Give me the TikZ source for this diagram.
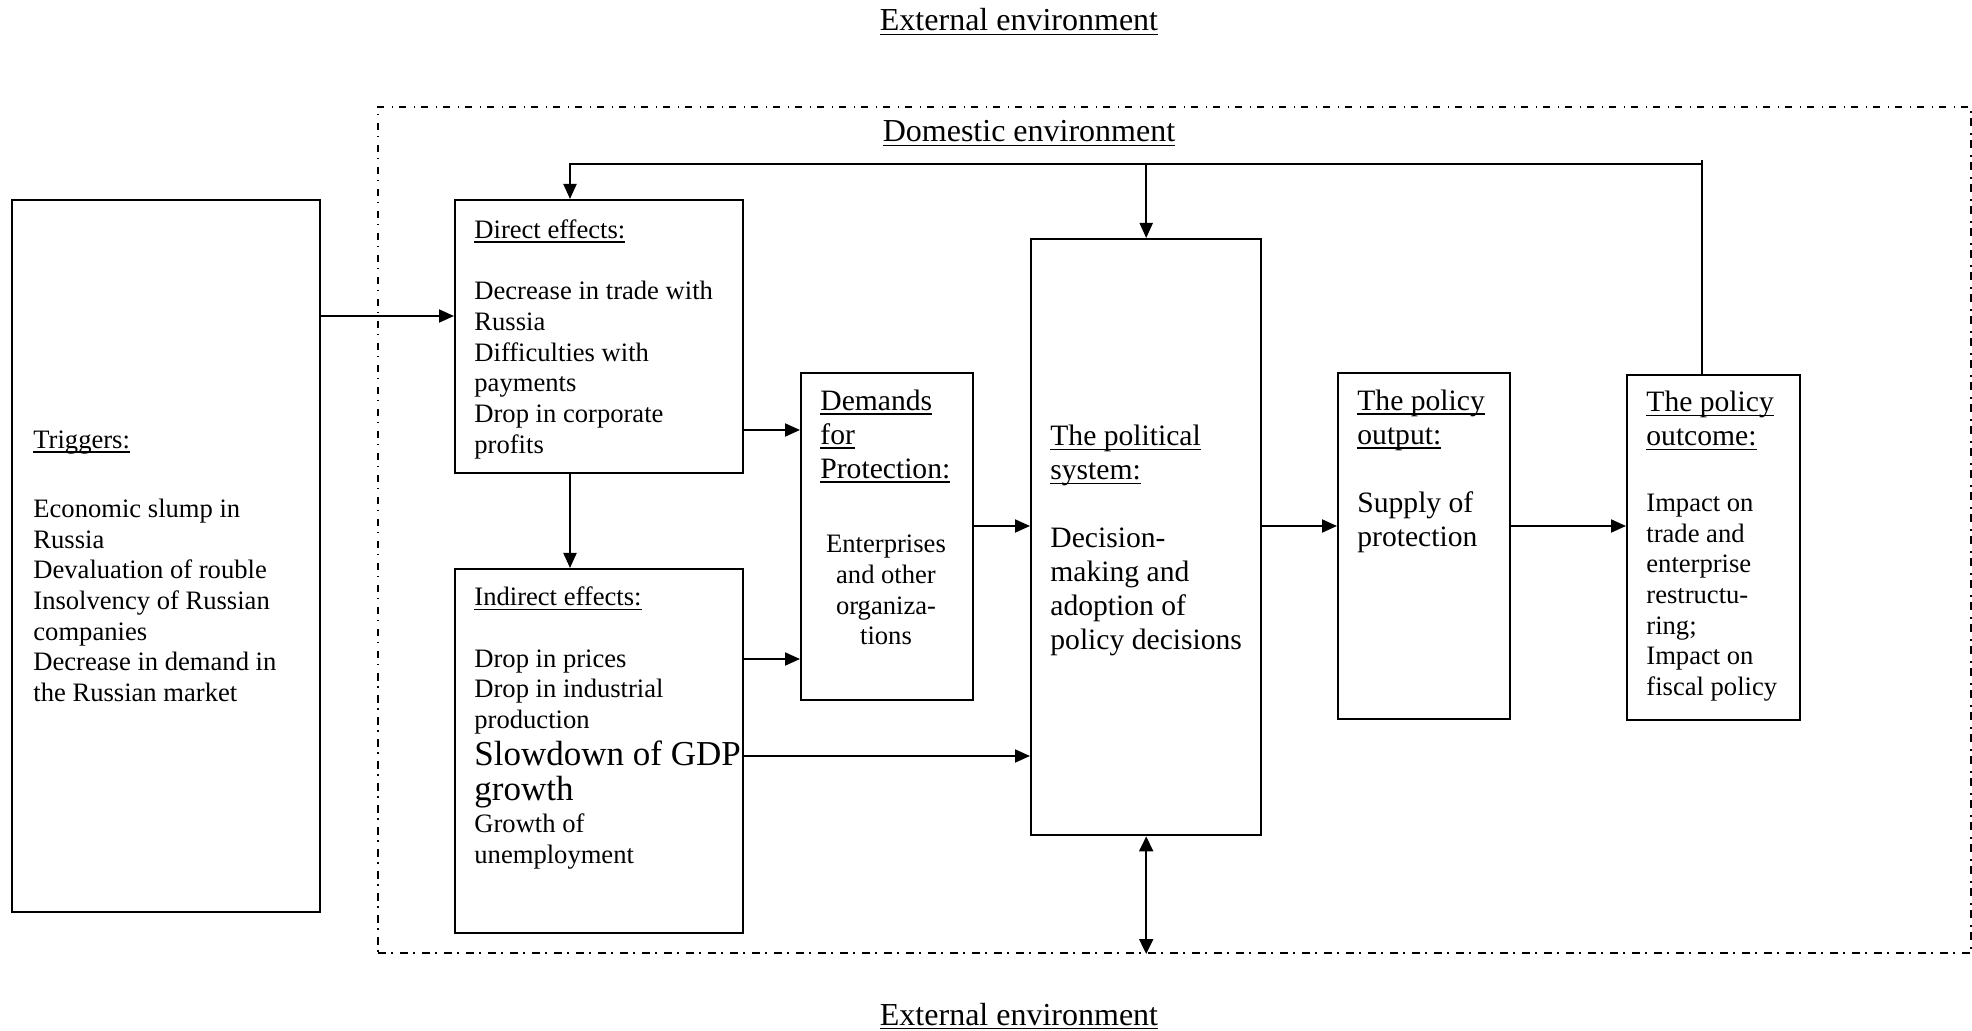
\documentclass[tikz,border=0pt]{standalone}
\usepackage{fontspec}
\setmainfont{Liberation Serif}
\usetikzlibrary{arrows.meta}
\newcommand\fnorm{\fontsize{13.3}{15.35}\selectfont}
\newcommand\fbig{\fontsize{14.8}{17}\selectfont}
\newcommand\fenv{\fontsize{16}{19}\selectfont}
\newcommand\fgdp{\fontsize{17.5}{17.6}\selectfont}
\newcommand\ulbox[1]{\leavevmode\setbox0=\hbox{#1}\rlap{\rule[-2.2pt]{\wd0}{0.7pt}}\box0}
\begin{document}
\begin{tikzpicture}[x=0.5pt, y=-0.5pt,
  box/.style={draw, line width=1.2pt, inner sep=0pt, anchor=north west},
  txt/.style={inner sep=0pt, anchor=north west, align=left, font=\fnorm},
  envlbl/.style={inner sep=0pt, anchor=base, font=\fenv},
  conn/.style={line width=1pt},
  arr/.style={line width=1pt, -{Triangle[length=7.5pt,width=6.5pt]}},
  dbl/.style={line width=1pt, {Triangle[length=7.5pt,width=7pt]}-{Triangle[length=7.5pt,width=7pt]}}]
\useasboundingbox (0,0) rectangle (1972,1031);

% domestic environment frame
\node[draw, dash pattern=on 3.75pt off 2.75pt on 0.75pt off 3.75pt, line width=1pt,
      minimum width=796.5pt, minimum height=423pt, inner sep=0pt, anchor=north west] (dom) at (377,106) {};

\node[envlbl] (ext1) at (1019,31) {\ulbox{External environment}};
\node[envlbl] (domlbl) at (1029,141.6) {\ulbox{Domestic environment}};
\node[envlbl] (ext2) at (1019,1025) {\ulbox{External environment}};

% boxes
\node[box, minimum width=154pt, minimum height=356pt] (trig) at (11,199) {};
\node[box, minimum width=144pt, minimum height=136.5pt] (direct) at (454,199) {};
\node[box, minimum width=144pt, minimum height=182pt] (indirect) at (454,568) {};
\node[box, minimum width=86pt, minimum height=163.5pt] (dem) at (800,372) {};
\node[box, minimum width=115pt, minimum height=298pt] (pol) at (1030,238) {};
\node[box, minimum width=86pt, minimum height=173pt] (out) at (1337,372) {};
\node[box, minimum width=86.5pt, minimum height=172.5pt] (ocm) at (1626,374) {};

% texts
\node[txt] (trigt) at (33,426.5) {\strut\ulbox{Triggers:}\\[3.8pt] \\ Economic slump in\\ Russia\\ Devaluation of rouble\\ Insolvency of Russian\\ companies\\ Decrease in demand in\\ the Russian market};
\node[txt] (dirt) at (474,216.5) {\strut\ulbox{Direct effects:}\\ \\ Decrease in trade with\\ Russia\\ Difficulties with\\ payments\\ Drop in corporate\\ profits};
\node[txt] (indt) at (474,584) {\strut\ulbox{Indirect effects:}\\ \\ Drop in prices\\ Drop in industrial\\ production\\[3pt] {\fgdp Slowdown of GDP}\\[2.2pt] {\fgdp growth}\\[0.6pt] Growth of\\ unemployment};
\node[txt, font=\fbig] (demt) at (820,386) {\strut\ulbox{Demands}\\ \ulbox{for}\\ \ulbox{Protection:}};
\node[txt, align=center, anchor=north] (demb) at (886,531) {\strut Enterprises\\ and other\\ organiza-\\ tions};
\node[txt, font=\fbig] (polt) at (1050,421.5) {\strut\ulbox{The political}\\ \ulbox{system:}\\ \\ Decision-\\ making and\\ adoption of\\ policy decisions};
\node[txt, font=\fbig] (outt) at (1357,386) {\strut\ulbox{The policy}\\ \ulbox{output:}\\ \\ Supply of\\ protection};
\node[txt, font=\fbig] (ocmt) at (1646,387.6) {\strut\ulbox{The policy}\\ \ulbox{outcome:}};
\node[txt] (ocmb) at (1646,489.5) {\strut Impact on\\ trade and\\ enterprise\\ restructu-\\ ring;\\ Impact on\\ fiscal policy};

% connectors
\coordinate (ya) at (0,316);
\coordinate (yb) at (0,430);
\coordinate (yc) at (0,659);
\coordinate (yd) at (0,756);
\coordinate (ye) at (0,526);
\coordinate (fx) at (570,0);
\coordinate (fb) at (1702,164);
\coordinate (fbtop) at (1702,160);

\draw[arr] (trig.east |- ya) -- (direct.west |- ya);
\draw[arr] (direct.east |- yb) -- (dem.west |- yb);
\draw[arr] (indirect.east |- yc) -- (dem.west |- yc);
\draw[arr] (indirect.east |- yd) -- (pol.west |- yd);
\draw[arr] (dem.east |- ye) -- (pol.west |- ye);
\draw[arr] (pol.east |- ye) -- (out.west |- ye);
\draw[arr] (out.east |- ye) -- (ocm.west |- ye);
\draw[arr] (direct.south -| fx) -- (indirect.north -| fx);
\draw[conn] (ocm.north -| fbtop) -- (fbtop);
\draw[arr] (fb) -- (fx |- fb) -- (direct.north -| fx);
\draw[arr] (pol.north |- fb) -- (pol.north);
\draw[dbl] (pol.south) -- (pol.south |- dom.south);
\end{tikzpicture}
\end{document}
